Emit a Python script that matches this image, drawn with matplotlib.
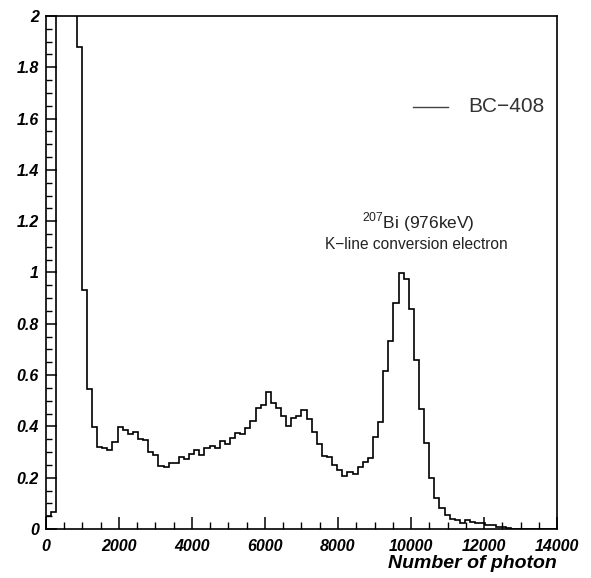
import numpy as np
import matplotlib
matplotlib.use("Agg")
import matplotlib.pyplot as plt
from matplotlib.ticker import MultipleLocator

# ---- data ----
x_min, x_max, n_bins = 0, 14000, 100
counts = [
    0.05, 0.065, 2.5, 2.5, 2.5, 2.5, 1.88, 0.93, 0.545, 0.397,
    0.32, 0.317, 0.308, 0.34, 0.397, 0.387, 0.372, 0.38, 0.35, 0.346,
    0.30, 0.29, 0.246, 0.24, 0.257, 0.257, 0.282, 0.272, 0.292, 0.308,
    0.29, 0.315, 0.325, 0.315, 0.344, 0.33, 0.354, 0.376, 0.372, 0.395,
    0.42, 0.47, 0.483, 0.534, 0.49, 0.473, 0.44, 0.40, 0.432, 0.44,
    0.463, 0.43, 0.38, 0.33, 0.285, 0.28, 0.25, 0.23, 0.208, 0.221,
    0.214, 0.243, 0.261, 0.276, 0.357, 0.418, 0.617, 0.734, 0.882, 0.997,
    0.973, 0.857, 0.66, 0.467, 0.334, 0.20, 0.12, 0.081, 0.055, 0.04,
    0.035, 0.025, 0.035, 0.028, 0.022, 0.024, 0.016, 0.014, 0.009, 0.008,
    0.002, 0.0, 0.0, 0.0, 0.0, 0.0, 0.0, 0.0, 0.0, 0.0,
]
series_label = "BC\u2212408"
annot_title = r"$^{\mathregular{207}}$Bi (976keV)"
annot_sub = "K\u2212line conversion electron"
x_ticks = [0, 2000, 4000, 6000, 8000, 10000, 12000, 14000]
y_ticks = [0, 0.2, 0.4, 0.6, 0.8, 1, 1.2, 1.4, 1.6, 1.8, 2]
y_tick_labels = ["0", "0.2", "0.4", "0.6", "0.8", "1", "1.2", "1.4", "1.6", "1.8", "2"]
x_label = "Number of photon"

plt.rcParams['font.family'] = ['Liberation Sans', 'DejaVu Sans']

fig = plt.figure(figsize=(5.91, 5.78), dpi=100)
ax = fig.add_axes([0.0778, 0.0848, 0.8647, 0.8875])

edges = np.linspace(x_min, x_max, n_bins + 1)
ax.stairs(counts, edges, color='black', linewidth=1.2, baseline=0)

ax.set_xlim(x_min, x_max)
ax.set_ylim(0, 2)
ax.set_xticks(x_ticks)
ax.set_xticklabels([str(t) for t in x_ticks])
ax.set_yticks(y_ticks)
ax.set_yticklabels(y_tick_labels)
ax.xaxis.set_minor_locator(MultipleLocator(500))
ax.yaxis.set_minor_locator(MultipleLocator(0.05))

ax.tick_params(axis='both', which='both', direction='in', top=False, right=False)
ax.tick_params(axis='x', which='major', length=9, width=1.1, pad=7)
ax.tick_params(axis='x', which='minor', length=5, width=1.0)
ax.tick_params(axis='y', which='major', length=8, width=1.1, pad=5)
ax.tick_params(axis='y', which='minor', length=4, width=1.0)
for lab in ax.get_xticklabels() + ax.get_yticklabels():
    lab.set_fontsize(11.5)
    lab.set_fontweight('bold')
    lab.set_fontstyle('italic')

for sp in ax.spines.values():
    sp.set_linewidth(1.2)
    sp.set_color('black')

ax.text(1.0, -0.068, x_label, transform=ax.transAxes, ha='right', va='center',
        fontsize=14, fontweight='bold', fontstyle='italic')

# legend-like annotation
ax.plot([0.718, 0.787], [0.823, 0.823], transform=ax.transAxes,
        color='#444444', linewidth=1.0)
ax.text(0.826, 0.823, series_label, transform=ax.transAxes, ha='left',
        va='center', fontsize=15, color='#333333')
ax.text(0.728, 0.598, annot_title, transform=ax.transAxes, ha='center',
        va='center', fontsize=12.5, color='#222222')
ax.text(0.724, 0.554, annot_sub, transform=ax.transAxes, ha='center',
        va='center', fontsize=11.2, color='#222222')

fig.savefig("out.png", dpi=100)
